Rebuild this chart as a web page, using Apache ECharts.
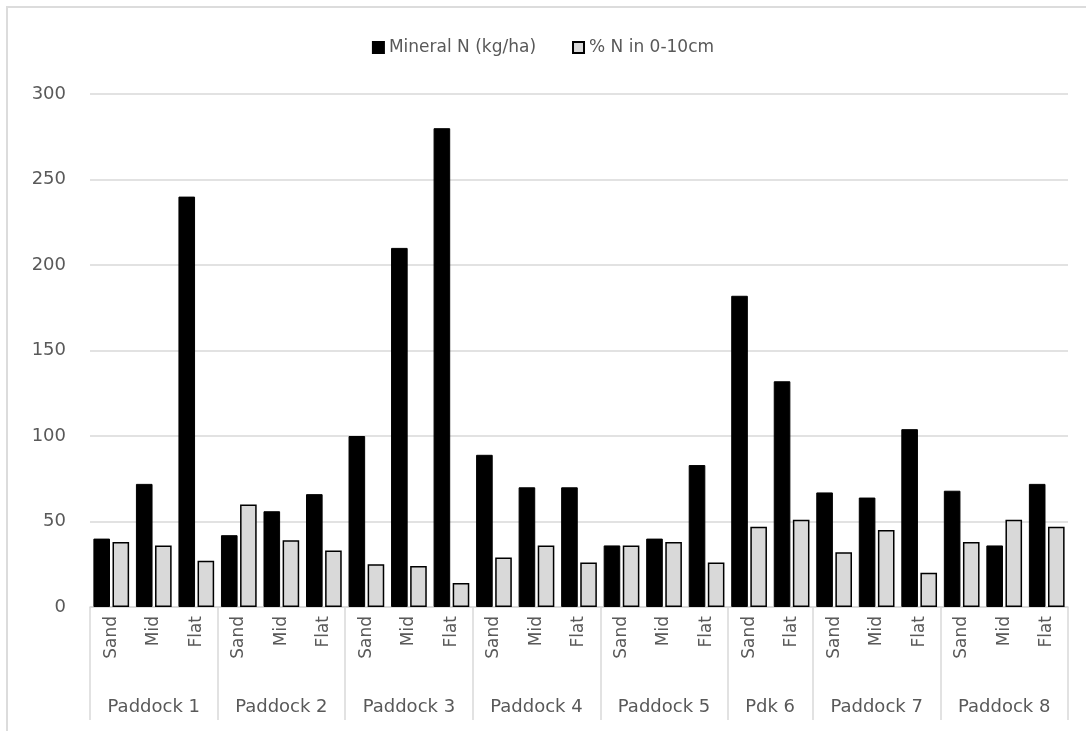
<!DOCTYPE html>
<html>
<head>
<meta charset="utf-8">
<title>Mineral N by paddock and zone</title>
<script src="https://cdn.jsdelivr.net/npm/echarts@6/dist/echarts.min.js"></script>
<style>
  html, body { margin: 0; padding: 0; background: #ffffff; }
  #frame { position: absolute; left: 6px; top: 6px; width: 1080px; height: 725px;
           border-left: 2px solid #dcdcdc; border-top: 2px solid #dcdcdc; box-sizing: border-box; }
  #chart { position: absolute; left: 0; top: 0; width: 1086px; height: 731px; }
</style>
</head>
<body>
<div id="frame"></div>
<div id="chart"></div>
<script>
// Sampling zones within each paddock (first axis row)
const subLabels = ['Sand', 'Mid', 'Flat', 'Sand', 'Mid', 'Flat', 'Sand', 'Mid', 'Flat',
                   'Sand', 'Mid', 'Flat', 'Sand', 'Mid', 'Flat', 'Sand', 'Flat',
                   'Sand', 'Mid', 'Flat', 'Sand', 'Mid', 'Flat'];
// Paddocks (second axis row) and how many zones each one holds
const groupNames = ['Paddock 1', 'Paddock 2', 'Paddock 3', 'Paddock 4', 'Paddock 5', 'Pdk 6', 'Paddock 7', 'Paddock 8'];
const groupSizes = [3, 3, 3, 3, 3, 2, 3, 3];
// Series values
const mineralN = [40, 72, 240, 42, 56, 66, 100, 210, 280, 89, 70, 70, 36, 40, 83, 182, 132, 67, 64, 104, 68, 36, 72];
const pctN0to10 = [38, 36, 27, 60, 39, 33, 25, 24, 14, 29, 36, 26, 36, 38, 26, 47, 51, 32, 45, 20, 38, 51, 47];
// Value axis ticks
const yTicks = [0, 50, 100, 150, 200, 250, 300];

// Group boundaries (tick indices) and the slot each paddock name sits on
const boundaries = new Set();
const groupLabelAt = {};
let start = 0;
groupSizes.forEach((n, g) => {
  boundaries.add(start);
  if (n % 2 === 1) {
    groupLabelAt[start + (n - 1) / 2] = groupNames[g];
  } else {
    // even-sized group: centre the name on the boundary between the two middle slots
    groupLabelAt[start + n / 2 - 1] = '{half|' + groupNames[g] + '}';
  }
  start += n;
});

const FONT = 'DejaVu Sans';
const TEXT = '#595959';
const GRID_LINE = '#d9d9d9';

const chart = echarts.init(document.getElementById('chart'), null, { renderer: 'canvas' });
chart.setOption({
  animation: false,
  textStyle: { fontFamily: FONT },
  legend: {
    top: 34,
    left: 'center',
    itemWidth: 11,
    itemHeight: 11,
    itemGap: 36,
    icon: 'rect',
    textStyle: { color: TEXT, fontSize: 17, fontFamily: FONT },
    data: ['Mineral N (kg/ha)', '% N in 0-10cm']
  },
  grid: { left: 90, right: 18, top: 94, bottom: 124, containLabel: false },
  xAxis: [
    {
      type: 'category',
      data: subLabels,
      boundaryGap: true,
      axisLine: { lineStyle: { color: GRID_LINE, width: 1.5 } },
      axisTick: {
        show: true,
        length: 113,
        interval: (index) => boundaries.has(index),
        lineStyle: { color: GRID_LINE, width: 1.5 }
      },
      axisLabel: {
        interval: 0,
        rotate: 90,
        margin: 9,
        color: TEXT,
        fontSize: 17,
        fontFamily: FONT
      }
    },
    {
      type: 'category',
      data: subLabels,
      position: 'bottom',
      offset: 82,
      boundaryGap: true,
      axisLine: { show: false },
      axisTick: { show: false },
      axisLabel: {
        interval: 0,
        margin: 9,
        color: TEXT,
        fontSize: 18,
        fontFamily: FONT,
        formatter: (value, index) => groupLabelAt[index] || '',
        rich: {
          half: { color: TEXT, fontSize: 18, fontFamily: FONT, padding: [0, 0, 0, 42] }
        }
      }
    }
  ],
  yAxis: {
    type: 'value',
    min: yTicks[0],
    max: yTicks[yTicks.length - 1],
    interval: yTicks[1] - yTicks[0],
    axisLine: { show: false },
    axisTick: { show: false },
    axisLabel: { color: TEXT, fontSize: 18, fontFamily: FONT, margin: 24 },
    splitLine: { lineStyle: { color: GRID_LINE, width: 1.5 } }
  },
  series: [
    {
      name: 'Mineral N (kg/ha)',
      type: 'bar',
      data: mineralN,
      barGap: '15%',
      barCategoryGap: '16%',
      itemStyle: { color: '#000000', borderColor: '#000000', borderWidth: 1 }
    },
    {
      name: '% N in 0-10cm',
      type: 'bar',
      data: pctN0to10,
      barGap: '15%',
      barCategoryGap: '16%',
      itemStyle: { color: '#d9d9d9', borderColor: '#000000', borderWidth: 1.5 }
    }
  ]
});
</script>
</body>
</html>
